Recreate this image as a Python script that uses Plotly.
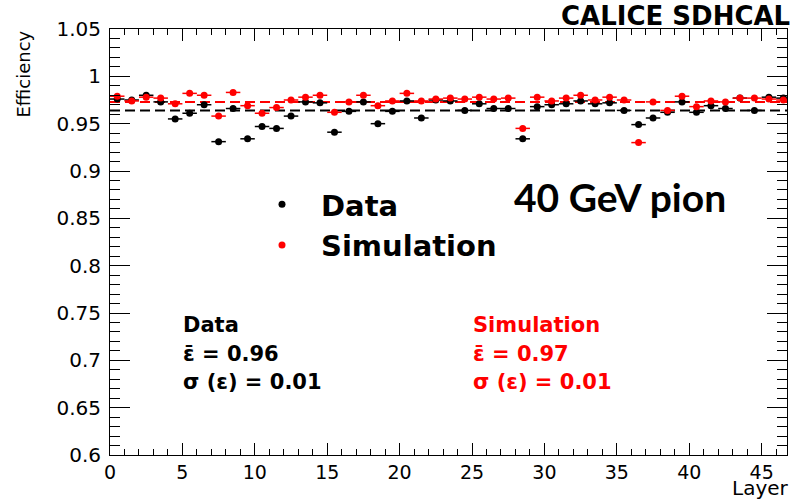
import plotly.graph_objects as go

# ---- data ----
layers = [0.5, 1.5, 2.5, 3.5, 4.5, 5.5, 6.5, 7.5, 8.5, 9.5, 10.5, 11.5, 12.5, 13.5, 14.5, 15.5,
          16.5, 17.5, 18.5, 19.5, 20.5, 21.5, 22.5, 23.5, 24.5, 25.5, 26.5, 27.5, 28.5, 29.5, 30.5,
          31.5, 32.5, 33.5, 34.5, 35.5, 36.5, 37.5, 38.5, 39.5, 40.5, 41.5, 42.5, 43.5, 44.5, 45.5, 46.5]
data_eff = [0.976, 0.975, 0.980, 0.973, 0.955, 0.961, 0.970, 0.931, 0.966, 0.934, 0.947, 0.945,
            0.958, 0.973, 0.972, 0.941, 0.963, 0.973, 0.950, 0.963, 0.974, 0.956, 0.975, 0.974,
            0.964, 0.971, 0.966, 0.966, 0.934, 0.968, 0.970, 0.971, 0.974, 0.971, 0.972, 0.964,
            0.949, 0.956, 0.962, 0.973, 0.962, 0.969, 0.966, 0.977, 0.964, 0.978, 0.977]
sim_eff = [0.979, 0.974, 0.978, 0.977, 0.971, 0.982, 0.980, 0.958, 0.983, 0.969, 0.961, 0.967,
           0.975, 0.978, 0.980, 0.962, 0.973, 0.980, 0.969, 0.974, 0.982, 0.974, 0.976, 0.977,
           0.976, 0.978, 0.976, 0.977, 0.945, 0.978, 0.974, 0.977, 0.980, 0.975, 0.978, 0.975,
           0.930, 0.973, 0.964, 0.979, 0.968, 0.974, 0.973, 0.977, 0.977, 0.976, 0.975]
layer_halfwidth = [0.5] * 47
eff_err = [0.002] * 47
mean_data = 0.964
mean_sim = 0.973
x_tickvals = [0, 5, 10, 15, 20, 25, 30, 35, 40, 45]
x_ticktext = ["0", "5", "10", "15", "20", "25", "30", "35", "40", "45"]
y_tickvals = [0.6, 0.65, 0.7, 0.75, 0.8, 0.85, 0.9, 0.95, 1.0, 1.05]
y_ticktext = ["0.6", "0.65", "0.7", "0.75", "0.8", "0.85", "0.9", "0.95", "1", "1.05"]

# ---- layout geometry (pixels) ----
W, H = 794, 499
L, R, T, B = 110, 7, 29, 44
PW, PH = W - L - R, H - T - B


def px(x):
    return (x - L) / PW


def py(y):
    return (H - B - y) / PH


ROOT = "DejaVu Sans, Liberation Sans, Arial, sans-serif"

fig = go.Figure()
fig.add_trace(go.Scatter(
    x=layers, y=data_eff, mode="markers", name="Data",
    marker=dict(color="black", size=7),
    error_x=dict(type="data", array=layer_halfwidth, color="black", thickness=1.5, width=0),
    error_y=dict(type="data", array=eff_err, color="black", thickness=1.5, width=0),
))
fig.add_trace(go.Scatter(
    x=layers, y=sim_eff, mode="markers", name="Simulation",
    marker=dict(color="#ff0000", size=7),
    error_x=dict(type="data", array=layer_halfwidth, color="#ff0000", thickness=1.5, width=0),
    error_y=dict(type="data", array=eff_err, color="#ff0000", thickness=1.5, width=0),
))

fig.add_shape(type="line", xref="paper", x0=0, x1=1, yref="y", y0=mean_data, y1=mean_data,
              line=dict(color="black", width=2, dash="10px,5px"), layer="below")
fig.add_shape(type="line", xref="paper", x0=0, x1=1, yref="y", y0=mean_sim, y1=mean_sim,
              line=dict(color="#ff0000", width=2, dash="10px,5px"), layer="below")

ann = []


def text(t, x, y, size, color="black", xanchor="left", family=ROOT, bold=True, angle=0, yanchor="middle"):
    ann.append(dict(text=t, xref="paper", yref="paper", x=px(x), y=py(y), xanchor=xanchor,
                    yanchor=yanchor, showarrow=False, textangle=angle, borderpad=0,
                    font=dict(family=family, size=size, color=color,
                              weight="bold" if bold else "normal")))


text("CALICE SDHCAL", 791, 16, 26, xanchor="right")
text("Efficiency", 23, 30, 18, xanchor="center", bold=False, angle=-90, yanchor="top")
text("Layer", 790, 488, 20, xanchor="right", bold=False)
text("40 GeV pion", 620, 197, 39, xanchor="center", family="Lato, Open Sans, sans-serif")
text("Data", 182, 325, 21)
text("\u03b5\u0304 = 0.96", 182, 354, 21)
text("\u03c3 (\u03b5) = 0.01", 182, 382, 21)
text("Simulation", 472, 325, 21, color="#ff0000")
text("\u03b5\u0304 = 0.97", 472, 354, 21, color="#ff0000")
text("\u03c3 (\u03b5) = 0.01", 472, 382, 21, color="#ff0000")

fig.update_layout(
    width=W, height=H,
    margin=dict(l=L, r=R, t=T, b=B, pad=0),
    paper_bgcolor="white", plot_bgcolor="white",
    annotations=ann,
    showlegend=True,
    legend=dict(x=px(243), y=py(179), xanchor="left", yanchor="top",
                bgcolor="rgba(0,0,0,0)", itemwidth=68,
                font=dict(family=ROOT, size=29, color="black", weight="bold")),
    xaxis=dict(range=[0, 46.75], showgrid=False, zeroline=False,
               showline=True, linecolor="black", linewidth=1, mirror="allticks",
               ticks="inside", ticklen=12, tickcolor="black", tickwidth=1,
               tickvals=x_tickvals, ticktext=x_ticktext,
               tickfont=dict(family=ROOT, size=19, color="black"),
               minor=dict(ticks="inside", ticklen=6, dtick=1, tickcolor="black", showgrid=False)),
    yaxis=dict(range=[0.6, 1.05], showgrid=False, zeroline=False,
               showline=True, linecolor="black", linewidth=1, mirror="allticks",
               ticks="inside", ticklen=20, tickcolor="black", tickwidth=1,
               tickvals=y_tickvals, ticktext=y_ticktext,
               ticklabelstandoff=4,
               tickfont=dict(family=ROOT, size=20, color="black"),
               minor=dict(ticks="inside", ticklen=10, dtick=0.01, tick0=0.6,
                          tickcolor="black", showgrid=False)),
)

fig.write_html("out.html")
